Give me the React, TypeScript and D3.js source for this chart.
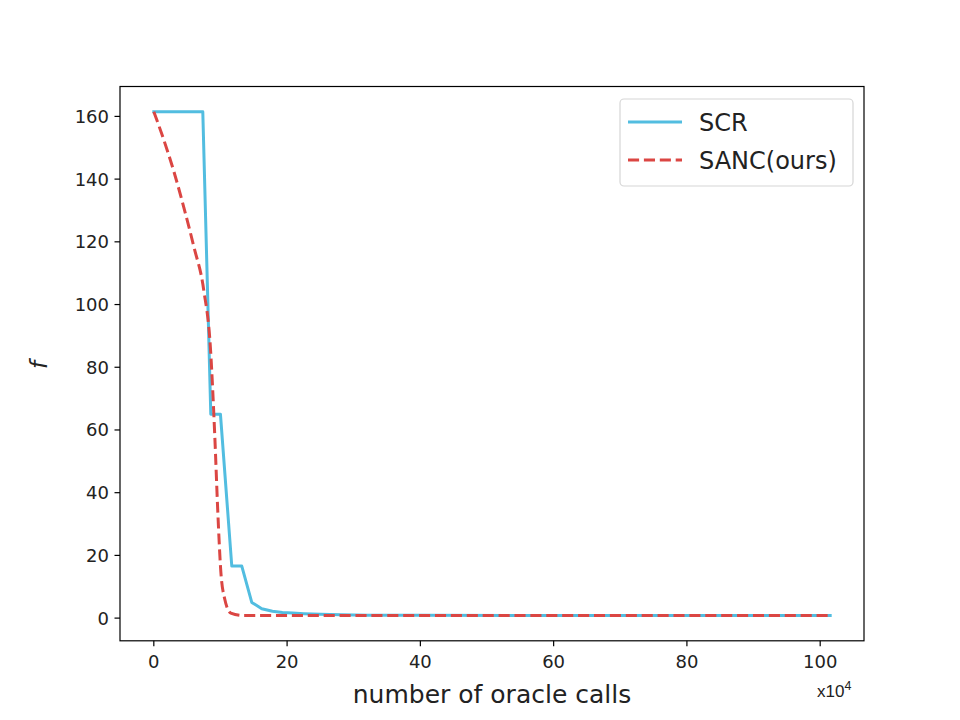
import React from "react";
import * as d3 from "d3";

const xTicks = [0, 20, 40, 60, 80, 100];
const yTicks = [0, 20, 40, 60, 80, 100, 120, 140, 160];

const scrX = [0, 7.35, 8.55, 10.0, 11.7, 13.2, 14.7, 16.2, 17.8, 19.3, 20.8, 22.5, 25, 28, 32, 40, 60, 80, 101.5];
const scrY = [161.5, 161.5, 65, 65, 16.6, 16.6, 5.0, 3.0, 2.2, 1.8, 1.6, 1.4, 1.2, 1.05, 0.95, 0.9, 0.85, 0.85, 0.85];

const sancX = [0, 1.5, 3, 4.5, 6, 7.5, 8.5, 9.15, 9.6, 10.05, 10.65, 11.55, 13.5, 20, 40, 60, 80, 101.5];
const sancY = [161.5, 152.5, 142.5, 131, 118.5, 104.5, 86, 58, 34, 15, 6, 1.6, 0.8, 0.8, 0.8, 0.8, 0.8, 0.8];

const seriesNames = ["SCR", "SANC(ours)"];

const W = 960, H = 720;
const L = 120, R = 864, T = 86.5, B = 640.8;
const blue = "#52bde0";
const red = "#db4643";

export default function App() {
  const x = d3.scaleLinear().domain([-5.075, 106.575]).range([L, R]);
  const y = d3.scaleLinear().domain([-7.235, 169.535]).range([B, T]);
  const line = d3.line<[number, number]>().x(d => x(d[0])).y(d => y(d[1]));
  const smooth = d3.line<[number, number]>().x(d => x(d[0])).y(d => y(d[1])).curve(d3.curveMonotoneX);
  const scr: [number, number][] = scrX.map((v, i) => [v, scrY[i]]);
  const sanc: [number, number][] = sancX.map((v, i) => [v, sancY[i]]);
  const font = "DejaVu Sans";
  return (
    <svg width={W} height={H} style={{ position: "absolute", left: 0, top: 0 }} fontFamily={font}>
      <rect x={0} y={0} width={W} height={H} fill="#fff" />
      <defs>
        <clipPath id="clip">
          <rect x={L} y={T} width={R - L} height={B - T} />
        </clipPath>
      </defs>
      <g clipPath="url(#clip)">
        <path d={line(scr) || ""} fill="none" stroke={blue} strokeWidth={3} strokeLinejoin="round" strokeLinecap="square" />
        <path d={smooth(sanc) || ""} fill="none" stroke={red} strokeWidth={3} strokeDasharray="11.1 4.8" strokeLinejoin="round" />
      </g>
      <rect x={L} y={T} width={R - L} height={B - T} fill="none" stroke="#000" strokeWidth={1.2} />
      {xTicks.map(t => (
        <g key={"x" + t}>
          <line x1={x(t)} x2={x(t)} y1={B} y2={B + 5.5} stroke="#000" strokeWidth={1.2} />
          <text x={x(t)} y={B + 27} textAnchor="middle" fontSize={18} fill="#222">{t}</text>
        </g>
      ))}
      {yTicks.map(t => (
        <g key={"y" + t}>
          <line x1={L} x2={L - 5.5} y1={y(t)} y2={y(t)} stroke="#000" strokeWidth={1.2} />
          <text x={L - 11} y={y(t) + 6.5} textAnchor="end" fontSize={18} fill="#222">{t}</text>
        </g>
      ))}
      <text x={492} y={703} textAnchor="middle" fontSize={25} fill="#222">number of oracle calls</text>
      <text x={817} y={697} fontSize={17} fontFamily="Liberation Sans" fill="#222">x10<tspan dy={-7} fontSize={12.5}>4</tspan></text>
      <text transform={`translate(47, 365) rotate(-90)`} textAnchor="middle" fontSize={23} fontStyle="italic" fill="#222">f</text>
      <g>
        <rect x={620} y={99} width={233} height={87} rx={4} fill="#fff" fillOpacity={0.8} stroke="#d6d6d6" strokeWidth={1.2} />
        <line x1={628} x2={682} y1={122} y2={122} stroke={blue} strokeWidth={3} />
        <line x1={628} x2={682} y1={160} y2={160} stroke={red} strokeWidth={3} strokeDasharray="11.1 4.8" />
        <text x={699} y={131} fontSize={24} fill="#222">{seriesNames[0]}</text>
        <text x={699} y={169} fontSize={24} fill="#222">{seriesNames[1]}</text>
      </g>
    </svg>
  );
}
